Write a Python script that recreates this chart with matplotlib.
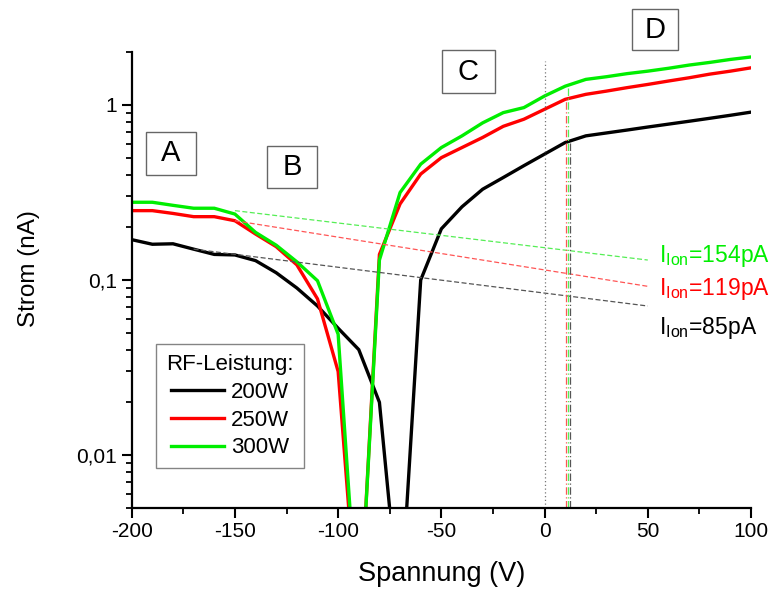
import numpy as np
import matplotlib
matplotlib.use("Agg")
import matplotlib.pyplot as plt
from matplotlib.patches import Rectangle
from matplotlib.ticker import FixedLocator, FuncFormatter, NullFormatter, LogLocator

plt.rcParams['font.family'] = ['Liberation Sans', 'DejaVu Sans']
plt.rcParams['mathtext.fontset'] = 'custom'
plt.rcParams['mathtext.rm'] = 'Liberation Sans'
plt.rcParams['mathtext.it'] = 'Liberation Sans'
plt.rcParams['axes.unicode_minus'] = False

# Kennlinien (Spannung in V, Strom in nA)
spannung = [-200, -190, -180, -170, -160, -150, -140, -130, -120, -110, -100,
            -90, -80, -70, -60, -50, -40, -30, -20, -10, 0,
            10, 20, 30, 40, 50, 60, 70, 80, 90, 100]
strom_200w = [0.170, 0.160, 0.161, 0.150, 0.140, 0.139, 0.129, 0.110, 0.090, 0.071, 0.053,
              0.040, 0.020, 0.0012, 0.100, 0.196, 0.262, 0.330, 0.385, 0.450, 0.524,
              0.610, 0.666, 0.692, 0.719, 0.748, 0.777, 0.807, 0.839, 0.873, 0.910]
strom_250w = [0.249, 0.249, 0.240, 0.230, 0.230, 0.218, 0.183, 0.155, 0.122, 0.078, 0.030,
              0.0009, 0.140, 0.272, 0.403, 0.500, 0.571, 0.652, 0.755, 0.829, 0.945,
              1.077, 1.150, 1.200, 1.256, 1.310, 1.370, 1.430, 1.500, 1.560, 1.630]
strom_300w = [0.278, 0.278, 0.267, 0.257, 0.257, 0.238, 0.187, 0.158, 0.127, 0.099, 0.049,
              0.0009, 0.130, 0.316, 0.459, 0.571, 0.666, 0.790, 0.904, 0.966, 1.125,
              1.280, 1.400, 1.450, 1.510, 1.560, 1.620, 1.690, 1.750, 1.820, 1.880]

leistung = ['200W', '250W', '300W']
farben = ['#000000', '#ff0000', '#00ee00']
fit_farben = ['#555555', '#ff5555', '#55ee55']

# Ionen-Saettigungsfits: (x_start, x_ende), (I_start, I_ende)
fit_x = [(-170, 50), (-150, 50), (-150, 50)]
fit_y = [(0.150, 0.071), (0.218, 0.092), (0.249, 0.130)]
ionenstrom = ['85pA', '119pA', '154pA']

# Plasmapotential (senkrechte Linien) und Startwert am Kurvenpunkt
v_plasma = [12.5, 10.2, 11.2]
v_plasma_y = [0.62, 1.08, 1.25]
buchstaben = ['A', 'B', 'C', 'D']

fig = plt.figure(figsize=(7.72, 5.94), dpi=100)
ax = fig.add_axes([0.1706, 0.1453, 0.8022, 0.7667])

kurven = [strom_200w, strom_250w, strom_300w]
for werte, farbe, name in zip(kurven, farben, leistung):
    ax.plot(spannung, werte, color=farbe, lw=2.4, label=name, solid_joinstyle='miter')

for fx, fy, fc in zip(fit_x, fit_y, fit_farben):
    ax.plot(fx, fy, color=fc, lw=0.9, ls=(0, (4, 2)))

ax.plot([0, 0], [0.005, 1.78], color='#777777', lw=0.9, ls=(0, (1, 2)))
for vx, vy, fc in zip(v_plasma, v_plasma_y, fit_farben):
    ax.plot([vx, vx], [0.005, vy], color=fc, lw=0.9, ls=(0, (6, 2, 1, 2)))

# Beschriftung Ionenstrom
text_y = [0.0493, 0.0816, 0.126]
for txt, ty, farbe in zip(ionenstrom, text_y, farben):
    ax.text(55.5, ty, r'I$_{\mathrm{Ion}}$=' + txt, color=farbe, fontsize=16.5,
            va='baseline', ha='left')

ax.set_yscale('log')
ax.set_xlim(-200, 100)
ax.set_ylim(0.005, 2)
ax.set_xticks([-200, -150, -100, -50, 0, 50, 100])
ax.set_xticks([-175, -125, -75, -25, 25, 75], minor=True)
ax.yaxis.set_major_locator(FixedLocator([0.01, 0.1, 1]))
ax.yaxis.set_major_formatter(FuncFormatter(lambda v, p: {0.01: '0,01', 0.1: '0,1', 1: '1'}.get(round(v, 3), '')))
ax.yaxis.set_minor_locator(LogLocator(base=10, subs=np.arange(2, 10)))
ax.yaxis.set_minor_formatter(NullFormatter())

for s in ['top', 'right']:
    ax.spines[s].set_visible(False)
for s in ['left', 'bottom']:
    ax.spines[s].set_linewidth(1.6)
ax.tick_params(which='major', direction='out', length=7, width=1.5, labelsize=15)
ax.tick_params(which='minor', direction='out', length=4, width=1.3)

ax.set_xlabel('Spannung (V)', fontsize=19.5, labelpad=14)
ax.set_ylabel('Strom (nA)', fontsize=17.5)
ax.yaxis.set_label_coords(-0.148, 0.524)

leg = ax.legend(title='RF-Leistung:', loc='lower left', bbox_to_anchor=(0.04, 0.0865),
                borderaxespad=0, fontsize=16, title_fontsize=16, frameon=True,
                fancybox=False, handlelength=2.4, handletextpad=0.3,
                labelspacing=0.3, borderpad=0.45)
leg.get_frame().set_edgecolor('#666666')
leg.get_frame().set_linewidth(1.0)

# Bereichskennzeichnung A-D (Kaesten in Achsenanteilen)
kasten = [(0.0226, 0.7306, 0.1043, 0.8257), (0.218, 0.7014, 0.2997, 0.7949),
          (0.5006, 0.910, 0.5866, 1.005), (0.8074, 1.005, 0.8826, 1.095)]
for b, (x0, y0, x1, y1) in zip(buchstaben, kasten):
    ax.add_patch(Rectangle((x0, y0), x1 - x0, y1 - y0, transform=ax.transAxes,
                           fill=False, edgecolor='#666666', lw=1.0, clip_on=False))
    ax.text((x0 + x1) / 2, (y0 + y1) / 2, b, transform=ax.transAxes, fontsize=21,
            ha='center', va='center')

fig.savefig('out.png', dpi=100)
